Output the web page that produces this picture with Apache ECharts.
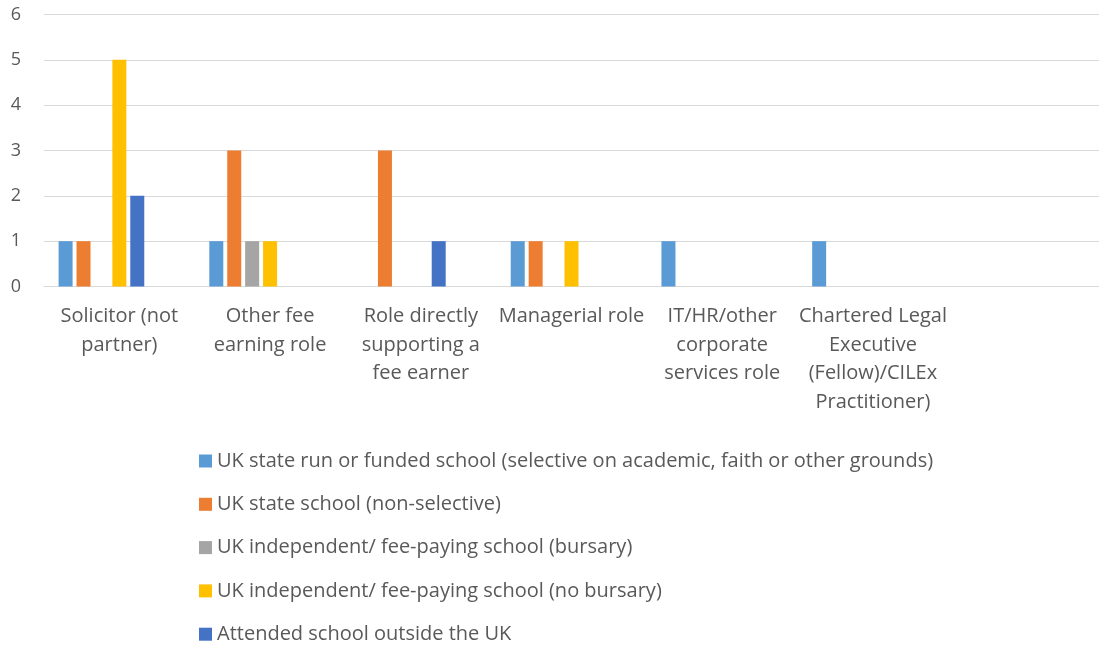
<!DOCTYPE html>
<html lang="en">
    <head>
        <meta charset="utf-8">
        <title>School type by role</title>
        <script src="https://cdn.jsdelivr.net/npm/echarts@6/dist/echarts.min.js"></script>
        <style>
            html, body { margin: 0; padding: 0; background: #fff; }
            #chart { width: 1099px; height: 650px; }
        </style>
    </head>
    <body>
        <div id="chart"></div>
        <script>
            // 分类（最后一个为空列）
            var categories = [
                'Solicitor (not\npartner)',
                'Other fee\nearning role',
                'Role directly\nsupporting a\nfee earner',
                'Managerial role',
                'IT/HR/other\ncorporate\nservices role',
                'Chartered Legal\nExecutive\n(Fellow)/CILEx\nPractitioner)',
                ''
            ];
            var seriesNames = [
                'UK state run or funded school (selective on academic, faith or other grounds)',
                'UK state school (non-selective)',
                'UK independent/ fee-paying school (bursary)',
                'UK independent/ fee-paying school (no bursary)',
                'Attended school outside the UK'
            ];
            var selective   = [1, 1, 0, 1, 1, 1, 0];
            var nonSelective = [1, 3, 3, 1, 0, 0, 0];
            var bursary     = [0, 1, 0, 0, 0, 0, 0];
            var noBursary   = [5, 1, 0, 1, 0, 0, 0];
            var outsideUK   = [2, 0, 1, 0, 0, 0, 0];
            var yTicks = [0, 6, 1]; // min, max, interval

            var colors = ['#5b9bd5', '#ed7d31', '#a5a5a5', '#ffc000', '#4472c4'];
            var values = [selective, nonSelective, bursary, noBursary, outsideUK];
            var font = '"Open Sans", sans-serif';

            var series = [];
            for (var i = 0; i < values.length; i++) {
                series.push({
                    name: seriesNames[i],
                    type: 'bar',
                    data: values[i],
                    barWidth: 14,
                    barGap: '28%',
                    itemStyle: { color: colors[i] }
                });
            }
            // 两个空系列占位（原图中未显示图例）
            series.push({ name: 'empty1', type: 'bar', data: [], barWidth: 14, barGap: '28%' });
            series.push({ name: 'empty2', type: 'bar', data: [], barWidth: 14, barGap: '28%' });

            var myChart = echarts.init(document.getElementById('chart'));
            var option = {
                animation: false,
                color: colors,
                grid: {
                    left: 44,
                    right: -4,
                    top: 14.5,
                    bottom: 363.5,
                    containLabel: false
                },
                legend: {
                    data: seriesNames,
                    orient: 'vertical',
                    left: 199,
                    top: 450,
                    padding: 0,
                    icon: 'rect',
                    itemWidth: 13,
                    itemHeight: 13,
                    itemGap: 21.3,
                    textStyle: {
                        color: '#595959',
                        fontSize: 20,
                        lineHeight: 22,
                        padding: [0, 0, 0, 0],
                        fontFamily: font
                    }
                },
                xAxis: {
                    type: 'category',
                    data: categories,
                    axisLine: { lineStyle: { color: '#d9d9d9', width: 1 } },
                    axisTick: { show: false },
                    axisLabel: {
                        interval: 0,
                        color: '#595959',
                        fontSize: 20,
                        lineHeight: 28.5,
                        margin: 16,
                        fontFamily: font
                    }
                },
                yAxis: {
                    type: 'value',
                    min: yTicks[0],
                    max: yTicks[1],
                    interval: yTicks[2],
                    axisLine: { show: false },
                    axisTick: { show: false },
                    splitLine: { lineStyle: { color: '#d9d9d9', width: 1 } },
                    axisLabel: {
                        color: '#595959',
                        fontSize: 18,
                        margin: 23,
                        fontFamily: font
                    }
                },
                series: series
            };
            myChart.setOption(option);
        </script>
    </body>
</html>
